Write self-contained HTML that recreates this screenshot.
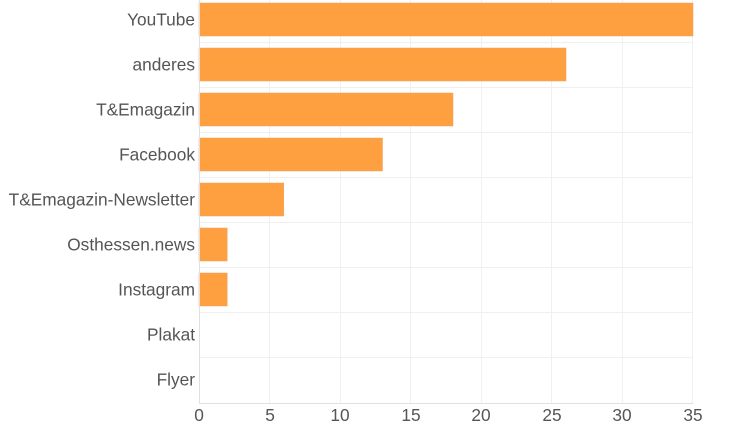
<!DOCTYPE html>
<html><head><meta charset="utf-8"><style>
html,body{margin:0;padding:0;background:#fff;}
svg{display:block;}
text{font-family:"Liberation Sans",sans-serif;font-size:17.3px;fill:#555;}
</style></head><body>
<svg width="733" height="429" viewBox="0 0 733 429">
<g stroke="#f0f0f0" stroke-width="1">
<line x1="199" y1="42.5" x2="693" y2="42.5"/>
<line x1="199" y1="87.5" x2="693" y2="87.5"/>
<line x1="199" y1="132.5" x2="693" y2="132.5"/>
<line x1="199" y1="177.5" x2="693" y2="177.5"/>
<line x1="199" y1="222.5" x2="693" y2="222.5"/>
<line x1="199" y1="267.5" x2="693" y2="267.5"/>
<line x1="199" y1="312.5" x2="693" y2="312.5"/>
<line x1="199" y1="357.5" x2="693" y2="357.5"/>
<line x1="269.5" y1="0" x2="269.5" y2="403"/>
<line x1="340.5" y1="0" x2="340.5" y2="403"/>
<line x1="410.5" y1="0" x2="410.5" y2="403"/>
<line x1="481.5" y1="0" x2="481.5" y2="403"/>
<line x1="551.5" y1="0" x2="551.5" y2="403"/>
<line x1="622.5" y1="0" x2="622.5" y2="403"/>
<line x1="692.5" y1="0" x2="692.5" y2="403"/>
</g>
<g fill="#ffa040" stroke="#f0a060" stroke-width="0.5">
<rect x="199" y="3" width="494" height="33"/>
<rect x="199" y="48" width="367" height="33"/>
<rect x="199" y="93" width="254" height="33"/>
<rect x="199" y="138" width="183.5" height="33"/>
<rect x="199" y="183" width="84.7" height="33"/>
<rect x="199" y="228" width="28.2" height="33"/>
<rect x="199" y="273" width="28.2" height="33"/>
</g>
<line x1="199" y1="403.5" x2="693" y2="403.5" stroke="#e0e0e0"/>
<line x1="199.5" y1="0" x2="199.5" y2="403" stroke="#e0e0e0"/>
<g text-anchor="end">
<text x="195" y="25.5">YouTube</text>
<text x="195" y="70.5">anderes</text>
<text x="195" y="115.5">T&amp;Emagazin</text>
<text x="195" y="160.5">Facebook</text>
<text x="195" y="205.5">T&amp;Emagazin-Newsletter</text>
<text x="195" y="250.5">Osthessen.news</text>
<text x="195" y="295.5">Instagram</text>
<text x="195" y="340.5">Plakat</text>
<text x="195" y="385.5">Flyer</text>
</g>
<g text-anchor="middle">
<text x="199" y="421">0</text>
<text x="270" y="421">5</text>
<text x="340" y="421">10</text>
<text x="411" y="421">15</text>
<text x="481" y="421">20</text>
<text x="552" y="421">25</text>
<text x="622" y="421">30</text>
<text x="693" y="421">35</text>
</g>
</svg>
</body></html>
